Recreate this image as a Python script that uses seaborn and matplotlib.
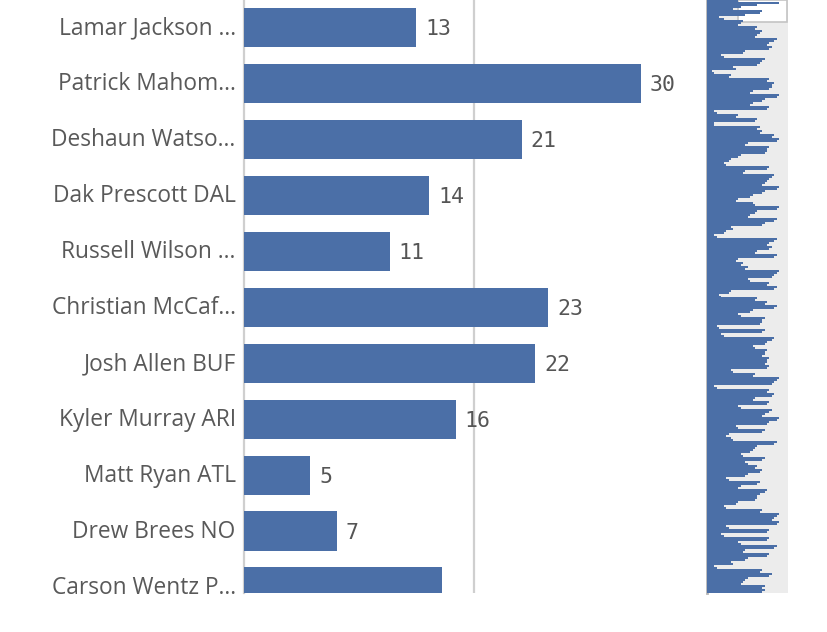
import matplotlib
matplotlib.use("Agg")
import matplotlib.pyplot as plt
import matplotlib.transforms as mtransforms
from matplotlib.patches import Rectangle
import seaborn as sns
import pandas as pd

# main view: the 11 rows visible in the chart
players = ["Lamar Jackson ...", "Patrick Mahom...", "Deshaun Watso...",
           "Dak Prescott DAL", "Russell Wilson ...", "Christian McCaf...",
           "Josh Allen BUF", "Kyler Murray ARI", "Matt Ryan ATL",
           "Drew Brees NO", "Carson Wentz P..."]
values = [13, 30, 21, 14, 11, 23, 22, 16, 5, 7, 15]

# scroll overview on the right (all rows)
overview_values = [
    13, 30, 21, 14, 11, 23, 22, 16, 5, 7, 15,
    14, 13, 21, 20, 23, 22, 21, 20, 29, 28, 26, 25, 27, 26, 16, 15, 6, 7, 24, 23,
    22, 21, 11, 12, 2, 3, 10, 9, 26, 25, 28, 27, 27, 26, 19, 18, 30, 29, 24, 23, 19, 18,
    26, 25, 3, 4, 13, 12, 21, 20, 3, 3, 22, 21, 23, 22, 28, 27, 30, 29, 17, 16, 26, 25,
    25, 24, 14, 13, 10, 9, 7, 8, 26, 25, 16, 15, 28, 27, 26, 25, 24, 23, 30, 29, 24, 23,
    19, 18, 13, 12, 19, 20,
    30, 29, 21, 20, 18, 17, 29, 28, 24, 23, 10, 11, 8, 7, 3, 4, 29, 28, 26, 25, 27, 26,
    21, 20, 29, 28, 13, 12, 15, 14, 17, 16, 30, 29, 28, 27, 17, 18, 26, 25, 29, 28, 10, 9,
    5, 6, 21, 20,
    25, 24, 29, 28, 19, 18, 13, 14, 24, 23, 23, 22, 4, 5, 24, 23, 6, 7, 28, 27, 25, 24,
    19, 20, 25, 24, 24, 23, 26, 25, 25, 24, 26, 25, 10, 11, 20, 19, 30, 29, 28, 27, 3, 4,
    26, 25, 28, 27, 20, 19, 26, 25, 13, 14,
    27, 26, 24, 23, 30, 29, 26, 25, 12, 13, 24, 23, 9, 8, 10, 11, 29, 28, 21, 20, 19, 18,
    14, 15, 24, 23, 16, 17, 21, 20, 23, 22, 17, 16, 8, 9, 22, 21, 14, 13, 25, 24, 22, 21,
    21, 20, 13, 12, 7, 8, 23, 22, 30, 29, 28, 27, 30, 29, 8, 9, 26, 25, 6, 7, 26, 25,
    13, 14, 29, 28, 16, 15, 26, 25, 17, 16, 10, 11, 3, 4, 23, 22, 27, 26, 17, 16, 15, 14,
    24, 23, 24, 23,
]

BAR_COLOR = "#4b6fa7"
TEXT_COLOR = "#595959"
GRID_COLOR = "#cfcfcf"

sns.set_style("white")
plt.rcParams['font.family'] = ['Open Sans', 'DejaVu Sans']

fig = plt.figure(figsize=(8.28, 6.32), dpi=100)
W, H = 828, 632

# main bar axes (pixel box 244..704 x 0..593)
ax = fig.add_axes([244 / W, (H - 593) / H, 460 / W, 593 / H])
df = pd.DataFrame({"player": players, "value": values})
sns.barplot(data=df, x="value", y="player", order=players, orient="h",
            color=BAR_COLOR, saturation=1, width=0.7, linewidth=0,
            edgecolor="none", ax=ax, zorder=3)

scale = 460 / 34.77
ax.set_xlim(0, 34.77)
ax.set_ylim(10.107, -0.49)
ax.axvline(17.39, color=GRID_COLOR, linewidth=1.6, zorder=1)

for i, v in enumerate(values[:-1]):
    ax.text(v + 9 / scale, i + 0.03, str(v), va="center", ha="left",
            fontsize=15.5, color="#555555", family="DejaVu Sans Mono")

ax.set_xlabel("")
ax.set_ylabel("")
ax.set_xticks([])
ax.tick_params(axis="y", length=0, pad=6, labelsize=16.4, labelcolor=TEXT_COLOR)
shift = mtransforms.ScaledTranslation(0, 2 / 100, fig.dpi_scale_trans)
for lbl in ax.get_yticklabels():
    lbl.set_transform(lbl.get_transform() + shift)
for s in ["top", "right", "bottom"]:
    ax.spines[s].set_visible(False)
ax.spines["left"].set_color(GRID_COLOR)
ax.spines["left"].set_linewidth(1.6)

# scroll overview (pixel box 707..788 x 0..593)
mini = fig.add_axes([707 / W, (H - 593) / H, 81 / W, 593 / H])
mini.set_facecolor("#ececec")
n = len(overview_values)
odf = pd.DataFrame({"row": [str(i) for i in range(n)], "value": overview_values})
sns.barplot(data=odf, x="value", y="row", orient="h", color=BAR_COLOR,
            saturation=1, width=1.0, linewidth=0, edgecolor="none",
            ax=mini, zorder=3)
mini.add_patch(Rectangle((12.8, -0.5), 20.4, 11, facecolor="white",
                         edgecolor="#c4c4c4", linewidth=1.2, zorder=2))
mini.set_xlim(0, 33.75)
mini.set_ylim(n - 0.5, -0.5)
mini.set_xticks([])
mini.set_yticks([])
mini.set_xlabel("")
mini.set_ylabel("")
for s in ["top", "right", "bottom"]:
    mini.spines[s].set_visible(False)
mini.spines["left"].set_color("#b5b5b5")
mini.spines["left"].set_linewidth(2)

fig.savefig("out.png", dpi=100, facecolor="white")
